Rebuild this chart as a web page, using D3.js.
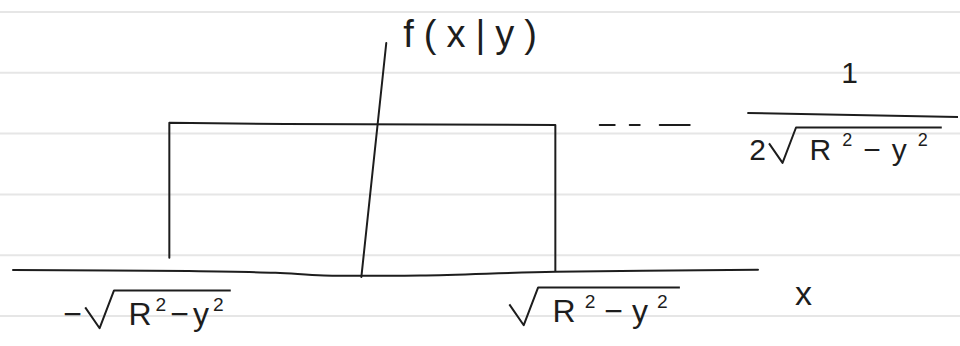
<!DOCTYPE html>
<html>
<head>
<meta charset="utf-8">
<script src="https://cdn.jsdelivr.net/npm/d3@7/dist/d3.min.js"></script>
<style>
  html, body { margin: 0; padding: 0; background: #fff; }
  svg { display: block; }
  text { font-family: "Liberation Sans", "DejaVu Sans", sans-serif; fill: #1d1d1d; }
</style>
</head>
<body>
<div id="chart"></div>
<script>
// f(x|y) is uniform on [-sqrt(R^2-y^2), sqrt(R^2-y^2)], height 1/(2 sqrt(R^2-y^2))
const halfWidth = 1;   // sqrt(R^2 - y^2) in sketch units
const density = 1;     // drawn height of the box
// hand drawn strokes [x, f]
const boxPoints = [[-1, 0.09], [-1, 1.007], [-0.4, 1.0], [1, 0.993], [1, 0]];
const xAxisPoints = [[-1.81, 0.007], [-0.9, 0.0], [-0.45, -0.012], [-0.2, -0.03], [0.3, -0.03], [1, -0.005], [2.05, 0.008]];
const yAxisPoints = [[-0.005, -0.04], [0.124, 1.55]];
const guidePoints = [[1.23, 0.993], [1.71, 0.993]];
const paperRules = [0, 1, 2, 3, 4, 5];
// texts
const yLabel = 'f(x|y)';
const xLabel = 'x';
const numerator = '1';
const radicand = [['R', false], ['2', true], ['−', false], ['y', false], ['2', true]];

const width = 960, height = 346;
const ink = '#1d1d1d';

const svg = d3.select('#chart').append('svg')
  .attr('width', width)
  .attr('height', height);

const xScale = d3.scaleLinear().domain([-1.81, 2.05]).range([13, 758]);
const yScale = d3.scaleLinear().domain([0, 1.55]).range([271, 43]);
const paperScale = d3.scaleLinear().domain([0, 5]).range([12, 316]);

// ruled paper
svg.append('g').selectAll('line')
  .data(paperRules)
  .join('line')
  .attr('x1', 0)
  .attr('x2', width)
  .attr('y1', d => paperScale(d))
  .attr('y2', d => paperScale(d))
  .attr('stroke', '#e6e6e6')
  .attr('stroke-width', 2);

const line = d3.line()
  .x(d => xScale(d[0]))
  .y(d => yScale(d[1]));

const plot = svg.append('g')
  .attr('fill', 'none')
  .attr('stroke', ink)
  .attr('stroke-width', 2)
  .attr('stroke-linecap', 'round')
  .attr('stroke-linejoin', 'round');

plot.append('path')
  .attr('d', d3.line().x(d => xScale(d[0])).y(d => yScale(d[1])).curve(d3.curveCatmullRom)(xAxisPoints));
plot.append('path')
  .attr('d', line(yAxisPoints));
plot.append('path')
  .attr('d', line(boxPoints));
plot.append('path')
  .attr('d', line(guidePoints))
  .attr('stroke-dasharray', '15 15 10 20 30');

// sqrt(R^2 - y^2) with optional prefix
function drawRadical(g, x, baseline, fs, prefix, spacing) {
  const grp = g.append('g');
  let cx = x;
  if (prefix) {
    const p = grp.append('text')
      .attr('x', cx)
      .attr('y', baseline)
      .attr('font-size', fs)
      .text(prefix);
    cx += p.node().getComputedTextLength() + fs * 0.1;
  }
  const top = baseline - fs * 1.08;
  const signEnd = cx + fs * 0.9;
  const t = grp.append('text')
    .attr('x', signEnd + fs * 0.45)
    .attr('y', baseline)
    .attr('font-size', fs)
    .attr('letter-spacing', spacing);
  let shift = 0;
  radicand.forEach(([s, sup]) => {
    const next = sup ? -fs * 0.45 : 0;
    t.append('tspan')
      .attr('dy', next - shift)
      .attr('font-size', sup ? fs * 0.6 : fs)
      .text(s);
    shift = next;
  });
  const end = signEnd + fs * 0.45 + t.node().getComputedTextLength() + fs * 0.1;
  grp.append('path')
    .attr('d', d3.line()([
      [cx, baseline - fs * 0.55],
      [cx + fs * 0.45, baseline + fs * 0.1],
      [signEnd, top],
      [end, top]
    ]))
    .attr('fill', 'none')
    .attr('stroke', ink)
    .attr('stroke-width', 2)
    .attr('stroke-linejoin', 'round');
}

const labels = svg.append('g');

// axis labels
labels.append('text')
  .attr('x', xScale(yAxisPoints[1][0]) + 17)
  .attr('y', 47)
  .attr('font-size', 38)
  .attr('letter-spacing', 10)
  .text(yLabel);

labels.append('text')
  .attr('x', xScale(xAxisPoints[xAxisPoints.length - 1][0]) + 37)
  .attr('y', 305)
  .attr('font-size', 34)
  .text(xLabel);

// support edges
drawRadical(labels, xScale(-halfWidth) - 106, yScale(0) + 54, 32, '−', 4);
drawRadical(labels, xScale(halfWidth) - 46, yScale(0) + 51, 32, null, 9);

// density value 1 / (2 sqrt(R^2 - y^2))
const fracX = xScale(halfWidth) + 192;
const barY = yScale(density) - 9;
labels.append('line')
  .attr('x1', fracX)
  .attr('x2', width - 2)
  .attr('y1', barY - 2)
  .attr('y2', barY + 2)
  .attr('stroke', ink)
  .attr('stroke-width', 2);
labels.append('text')
  .attr('x', (fracX + width) / 2 - 4)
  .attr('y', barY - 32)
  .attr('font-size', 30)
  .attr('text-anchor', 'middle')
  .text(numerator);
drawRadical(labels, fracX + 2, barY + 45, 30, '2', 11);
</script>
</body>
</html>
